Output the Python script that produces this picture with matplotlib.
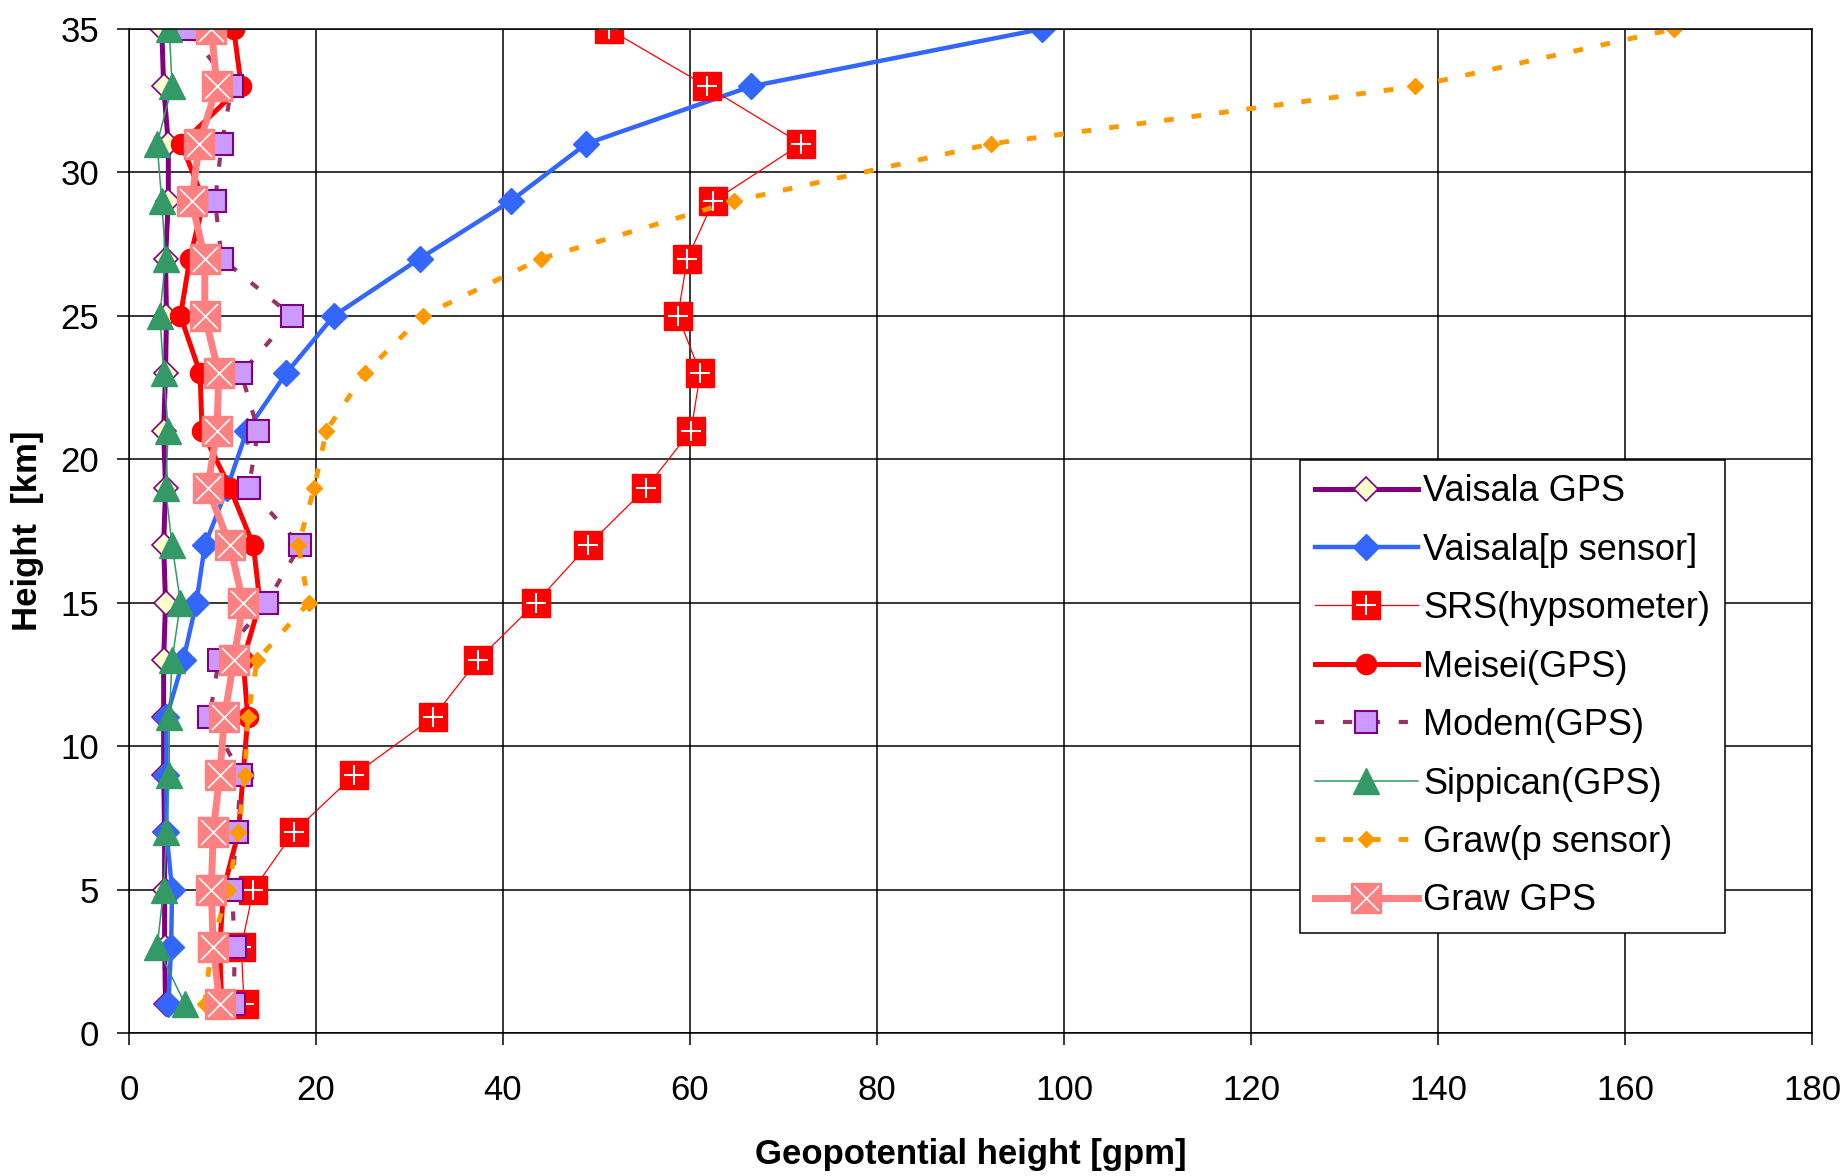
import numpy as np
import matplotlib
matplotlib.use('Agg')
import matplotlib.pyplot as plt

plt.rcParams['font.family'] = ['Liberation Sans', 'DejaVu Sans']

# heights of the data points [km]
height = [1, 3, 5, 7, 9, 11, 13, 15, 17, 19, 21, 23, 25, 27, 29, 31, 33, 35]

# geopotential height values [gpm], bottom to top
vaisala_gps = [3.9, 3.8, 3.8, 3.8, 3.7, 3.7, 3.7, 3.9, 3.7, 3.9, 3.7, 3.9, 4.0, 3.9, 4.2, 4.2, 3.7, 3.5]
vaisala_p = [4.2, 4.5, 4.6, 4.0, 4.0, 4.0, 5.8, 7.2, 8.1, 10.5, 12.6, 16.8, 21.9, 31.1, 40.8, 48.9, 66.5, 97.6]
srs = [12.3, 12.0, 13.3, 17.6, 24.1, 32.5, 37.3, 43.5, 49.1, 55.3, 60.1, 61.1, 58.7, 59.7, 62.5, 71.9, 61.8, 51.3]
meisei = [9.9, 9.7, 10.1, 11.7, 12.2, 12.7, 12.2, 14.0, 13.3, 10.8, 7.8, 7.6, 5.5, 6.5, 8.0, 5.6, 12.0, 11.2]
modem = [11.2, 11.3, 11.0, 11.5, 12.0, 8.6, 9.6, 14.7, 18.3, 12.8, 13.8, 12.0, 17.4, 9.9, 9.2, 9.9, 11.0, 6.2]
sippican = [6.0, 3.0, 3.7, 4.0, 4.3, 4.3, 4.6, 5.5, 4.6, 3.9, 4.2, 3.7, 3.3, 3.9, 3.5, 3.0, 4.6, 4.3]
graw_p = [8.1, 8.8, 10.6, 11.7, 12.4, 12.7, 13.7, 19.2, 18.1, 19.8, 21.1, 25.2, 31.4, 44.1, 64.7, 92.2, 137.5, 165.2]
graw_gps = [9.7, 9.0, 8.8, 9.0, 9.7, 10.2, 11.2, 12.2, 10.8, 8.4, 9.4, 9.6, 8.1, 8.1, 6.7, 7.5, 9.4, 8.8]

fig = plt.figure(figsize=(18.49, 11.76), dpi=100)
ax = fig.add_axes([0.0698, 0.1216, 0.9102, 0.8537])

l1, = ax.plot(vaisala_gps, height, color='#800080', lw=3.6, marker='D', ms=12,
              mfc='#FFFFCC', mec='#800080', mew=1.2)
l2, = ax.plot(vaisala_p, height, color='#3366FF', lw=3.2, marker='D', ms=13,
              mfc='#3366FF', mec='#3366FF')
l3, = ax.plot(srs, height, color='#FF0000', lw=0.9, marker='s', ms=20.5,
              mfc='#FF0000', mec='#FF0000')
l3b, = ax.plot(srs, height, ls='none', marker='+', ms=14, mew=1.5, color='white')
l4, = ax.plot(meisei, height, color='#FF0000', lw=3.6, marker='o', ms=14.5,
              mfc='#FF0000', mec='#FF0000')
l5, = ax.plot(modem, height, color='#993366', lw=3, ls=(0, (2.2, 4.5)),
              marker='s', ms=16.5, mfc='#CC99FF', mec='#800080', mew=1.5)
l6, = ax.plot(sippican, height, color='#339966', lw=1.1, marker='^', ms=19,
              mfc='#339966', mec='#339966')
l7, = ax.plot(graw_p, height, color='#FF9900', lw=3.5, ls=(0, (2, 3.7)),
              marker='D', ms=8, mfc='#FF9900', mec='#FF9900')
l8, = ax.plot(graw_gps, height, color='#FF8080', lw=5, marker='s', ms=21.5,
              mfc='#FF8080', mec='#FF8080')
l8b, = ax.plot(graw_gps, height, ls='none', marker='x', ms=18, mew=1.2, color='white')

ax.set_xlim(0, 180)
ax.set_ylim(0, 35)
ax.set_xticks(np.arange(0, 181, 20))
ax.set_yticks(np.arange(0, 36, 5))
ax.grid(True, color='black', lw=1.1)
ax.set_axisbelow(True)
for s in ax.spines.values():
    s.set_color('black')
    s.set_linewidth(1.1)
ax.tick_params(axis='both', direction='out', length=8.6, width=1.1, labelsize=25)
ax.tick_params(axis='x', pad=21)
ax.tick_params(axis='y', pad=13)

ax.set_xlabel('Geopotential height [gpm]', fontsize=25, fontweight='bold', labelpad=22)
ax.set_ylabel('Height  [km]', fontsize=25, fontweight='bold', labelpad=12)

handles = [l1, l2, (l3, l3b), l4, l5, l6, l7, (l8, l8b)]
labels = ['Vaisala GPS', 'Vaisala[p sensor]', 'SRS(hypsometer)', 'Meisei(GPS)',
          'Modem(GPS)', 'Sippican(GPS)', 'Graw(p sensor)', 'Graw GPS']
leg = ax.legend(handles, labels, loc='upper left', bbox_to_anchor=(0.696, 0.571),
                borderaxespad=0, fontsize=26, numpoints=1, handlelength=2.85,
                handletextpad=0.15, labelspacing=0.65, borderpad=0.4,
                fancybox=False, framealpha=1, edgecolor='black')
leg.get_frame().set_linewidth(1.1)

fig.savefig('out.png', dpi=100)
